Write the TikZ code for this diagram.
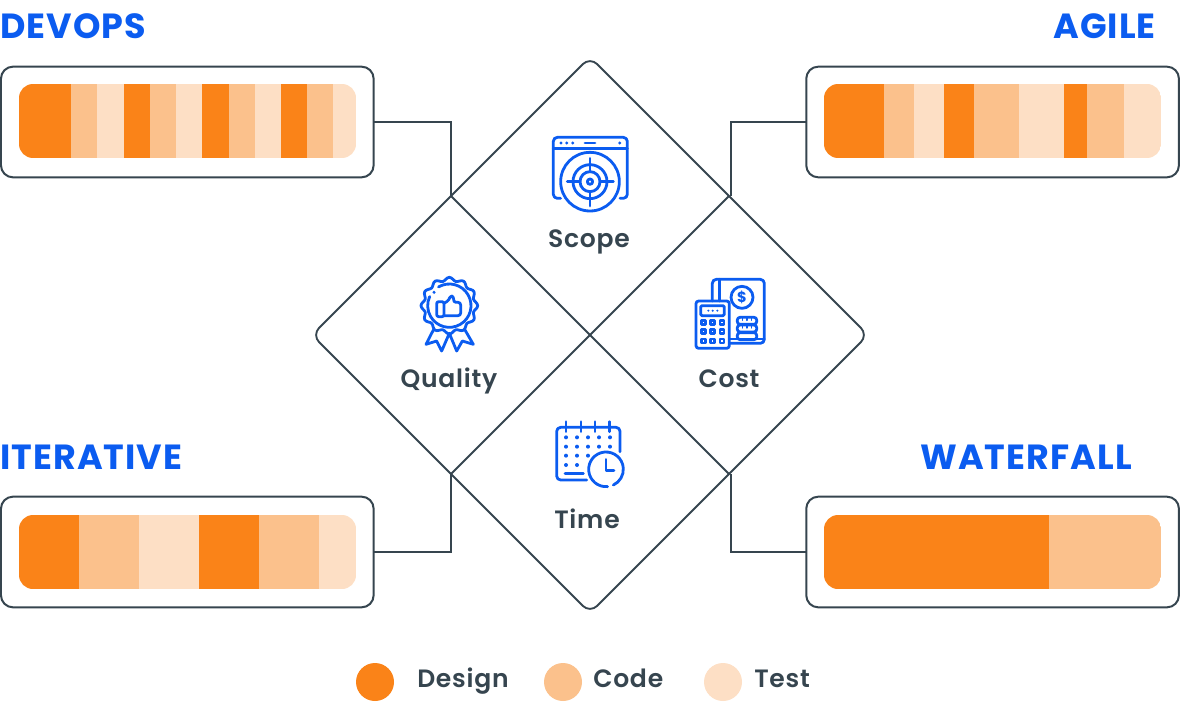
\documentclass[tikz,border=0pt]{standalone}
\usepackage{fontspec}
\setmainfont{Poppins}
\newfontfamily\midfont{Poppins SemiBold}[LetterSpace=3]
\newfontfamily\headfont{Poppins}[BoldFont=* Bold,LetterSpace=3]
\usetikzlibrary{positioning, calc, shapes.geometric}
\definecolor{design}{HTML}{FA8318}
\definecolor{code}{HTML}{FBC18C}
\definecolor{test}{HTML}{FDDFC5}
\definecolor{slate}{HTML}{36454F}
\definecolor{iconblue}{HTML}{0B5CF0}
% stripes of one bar: top y, then x0/x1/colour
\newcommand{\barstripes}[3]{%
	\begin{scope}
		\clip[rounded corners=10.5pt] (#2,#1) rectangle ++(337,74);
		\foreach \xa/\xb/\col in {#3}
			\fill[\col] (\xa,#1) rectangle (\xb,#1+74);
	\end{scope}
}

\begin{document}
\begin{tikzpicture}[x=0.75pt,y=-0.75pt]
	% Define styles
	\tikzset{
		panel/.style={rectangle, draw=slate, line width=1.5pt, rounded corners=9pt, minimum width=279.5pt, minimum height=83pt, inner sep=0pt, outer sep=0pt},
		link/.style={draw=slate, line width=1.5pt},
		heading/.style={text=iconblue, font=\headfont\bfseries\fontsize{26.2}{30}\selectfont, inner sep=0pt},
		caption/.style={text=slate, font=\midfont\fontsize{18.8}{22}\selectfont, inner sep=0pt},
		swatch/.style={circle, minimum size=28.5pt, inner sep=0pt},
		iconline/.style={draw=iconblue, line width=2.1pt, line cap=round, line join=round},
		icondot/.style={fill=iconblue}
	}
	\useasboundingbox (0,0) rectangle (1180,706);

	% Nodes
	\node[diamond, draw=slate, line width=1.4pt, rounded corners=7.5pt, minimum width=417pt, minimum height=417pt, inner sep=0pt, outer sep=0pt] (main) at (590,335) {};
	\coordinate (nw) at ($(main.north)!.5!(main.west)$);
	\coordinate (ne) at ($(main.north)!.5!(main.east)$);
	\coordinate (sw) at ($(main.south)!.5!(main.west)$);
	\coordinate (se) at ($(main.south)!.5!(main.east)$);

	\node[panel] (devops) at (187.3,122) {};
	\node[panel] (agile) at (992.6,122) {};
	\node[panel] (iterative) at (187.3,552) {};
	\node[panel] (waterfall) at (992.6,552) {};

	\node[heading, anchor=base west] (devopst) at (0,39) {DEVOPS};
	\node[heading, anchor=base east] (agilet) at (1156,39) {AGILE};
	\node[heading, anchor=base west] (iterativet) at (0,469) {ITERATIVE};
	\node[heading, anchor=base east] (waterfallt) at (1132,469) {WATERFALL};

	\node[caption, anchor=base] (scope) at (589,247) {Scope};
	\node[caption, anchor=base] (quality) at (449,387) {Quality};
	\node[caption, anchor=base] (cost) at (729,387) {Cost};
	\node[caption, anchor=base] (time) at (587,528) {Time};

	\node[swatch, fill=design] (s1) at (375,682) {};
	\node[swatch, fill=code] (s2) at (563,682) {};
	\node[swatch, fill=test] (s3) at (723,682) {};
	\node[caption, anchor=base west] (l1) at (417,687) {Design};
	\node[caption, anchor=base west] (l2) at (593,687) {Code};
	\node[caption, anchor=base west] (l3) at (754,687) {Test};

	% Bars
	\barstripes{84}{19}{19/71/design,71/97/code,97/124/test,124/150/design,150/176/code,176/202/test,202/229/design,229/255/code,255/281/test,281/307/design,307/333/code,333/356/test}
	\barstripes{84}{824}{824/884/design,884/914/code,914/944/test,944/974/design,974/1019/code,1019/1064/test,1064/1087/design,1087/1124/code,1124/1161/test}
	\barstripes{515}{19}{19/79/design,79/139/code,139/199/test,199/259/design,259/319/code,319/356/test}
	\barstripes{515}{824}{824/1049/design,1049/1161/code}

	% Arrows
	\draw[link, line width=1.4pt] (nw) -- (se);
	\draw[link, line width=1.4pt] (ne) -- (sw);
	\draw[link] (devops.east) -| (nw);
	\draw[link] (agile.west) -| ([xshift=1.5pt]ne);
	\draw[link] (iterative.east) -| (sw);
	\draw[link] (waterfall.west) -| ([xshift=1.5pt]se);

	% Scope icon
	\begin{scope}[shift={(530,120)},x=0.25pt,y=-0.25pt]
		\draw[iconline, rounded corners=3pt] (92,235) -- (70,235) -- (70,52) -- (292,52) -- (292,235) -- (270,235);
		\draw[iconline] (70,85) -- (292,85);
		\fill[icondot] (93,69) circle[radius=5] (110,69) circle[radius=5] (128,69) circle[radius=5] (269,69) circle[radius=5];
		\draw[iconline] (165,69) -- (195,69);
		\draw[iconline, fill=white] (180,185) circle[radius=88];
		\draw[iconline] (180,185) circle[radius=51];
		\draw[iconline] (180,185) circle[radius=30];
		\draw[iconline] (180,185) circle[radius=8];
		\draw[iconline] (112,185) -- (150,185) (210,185) -- (250,185) (180,115) -- (180,155) (180,215) -- (180,258);
	\end{scope}

	% Quality icon
	\begin{scope}[shift={(390,265)},x=0.25pt,y=-0.25pt]
		\draw[iconline, shift={(178,122)}] plot[smooth cycle, samples=96, domain=0:356.25, variable=\ang] (\ang:{80+5*cos(12*\ang)});
		\draw[iconline] (178,122) ++(240:65) arc[start angle=240, end angle=565, radius=65];
		\fill[icondot] (132,82) circle[radius=5];
		\draw[iconline, rounded corners=1.5pt] (140,110) rectangle (162,155);
		\draw[iconline, rounded corners=2pt] (162,115) -- (178,105) -- (180,92) -- (192,95) -- (190,112) -- (212,112) -- (212,152) -- (162,152);
		\draw[iconline] (130,195) -- (108,238) -- (140,228) -- (155,258) -- (178,205) -- (200,258) -- (217,228) -- (250,238) -- (225,195);
	\end{scope}

	% Cost icon
	\begin{scope}[shift={(680,265)},x=0.25pt,y=-0.25pt]
		\draw[iconline, rounded corners=3pt] (97,108) -- (97,43) -- (253,43) -- (253,235) -- (148,235);
		\draw[iconline] (118,43) -- (118,108);
		\draw[iconline] (150,222) -- (253,222);
		\draw[iconline] (186,97) circle[radius=33];
		\node[text=iconblue, font=\bfseries\fontsize{11}{11}\selectfont, inner sep=0pt] (dollar) at (186,97) {\$};
		\draw[iconline, rounded corners=2pt] (48,108) rectangle (148,250);
		\draw[iconline, rounded corners=1pt] (62,122) rectangle (133,152);
		\foreach \xa in {85,98,112}
			\fill[icondot] (\xa,137) circle[radius=3.5];
		\foreach \xa in {70,98,126}
			\foreach \ya in {172,200,228}
				\draw[iconline] (\xa-6,\ya-6) rectangle (\xa+6,\ya+6);
		\foreach \ya in {157,180,203}
			\draw[iconline, rounded corners=2pt] (172,\ya) rectangle (230,\ya+21);
		\foreach \xa in {187,201,215}
			\draw[iconline, line width=1pt] (\xa,157) -- (\xa,166);
		\foreach \xa in {187,201,215}
			\draw[iconline, line width=1pt] (\xa,180) -- (\xa,189);
	\end{scope}

	% Time icon
	\begin{scope}[shift={(540,410)},x=0.25pt,y=-0.25pt]
		\draw[iconline, rounded corners=3pt] (140,210) -- (50,210) -- (50,52) -- (240,52) -- (240,125);
		\foreach \xa in {78,123,165,208}
			\draw[iconline] (\xa,35) -- (\xa,65);
		\foreach \xa in {78,111,144,177,210}
			\foreach \ya in {82,110}
				\fill[icondot] (\xa,\ya) circle[radius=6];
		\foreach \xa in {78,111,144}
			\fill[icondot] (\xa,137) circle[radius=6];
		\foreach \xa in {78,111}
			\fill[icondot] (\xa,165) circle[radius=6];
		\draw[iconline] (75,190) -- (130,190);
		\draw[iconline] (198,178) ++(85:52) arc[start angle=85, end angle=425, radius=52];
		\draw[iconline] (198,148) -- (198,182) -- (222,182);
	\end{scope}
\end{tikzpicture}
\end{document}
